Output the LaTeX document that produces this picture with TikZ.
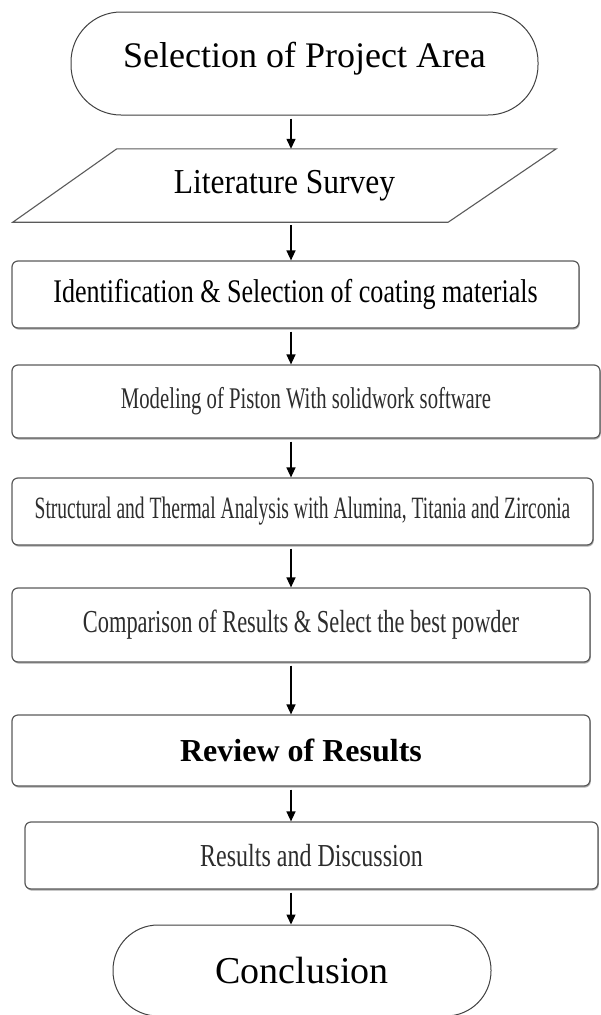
\documentclass[tikz,border=0pt]{standalone}
\usepackage{fontspec}
\setmainfont{Liberation Serif}
\usepackage{tikz}
\usetikzlibrary{arrows.meta,positioning,shapes.geometric,shadows}
\definecolor{edgeGray}{RGB}{90,90,90}
\definecolor{inkGray}{RGB}{45,45,45}
\newcommand{\squeeze}[2]{\scalebox{#1}[1]{#2}}
\tikzset{
  stepbox/.style={draw=edgeGray,line width=1.2pt,rounded corners=6pt,fill=white,inner sep=0pt,
    drop shadow={shadow xshift=.8pt,shadow yshift=-1.6pt,fill=black!55,opacity=.6}},
  termbox/.style={draw=black!75,line width=1pt,fill=white,inner sep=0pt},
  flow/.style={line width=1.4pt,-{Triangle[length=10pt,width=9pt]},shorten <=3pt},
}

\begin{document}
\begin{tikzpicture}[x=1pt,y=-1pt]
\useasboundingbox (0,0) rectangle (601,1015);
\coordinate (spine) at (291,0);
\node[termbox,rounded corners=50pt,minimum width=467pt,minimum height=103pt,text depth=17pt,font=\fontsize{36}{40}\selectfont] (area) at (304.5,63.5) {Selection of Project Area};
\node[inner sep=0pt,minimum width=543pt,minimum height=73pt,font=\fontsize{35}{38}\selectfont] (survey) at (284.5,185.5) {\squeeze{.9}{Literature Survey}};
\draw[edgeGray,line width=1.1pt,line join=miter] ([xshift=104pt]survey.north west) -- (survey.north east)
  -- ([xshift=-108pt]survey.south east) -- (survey.south west) -- cycle;
\node[stepbox,minimum width=567pt,minimum height=67pt,font=\fontsize{33}{36}\selectfont] (ident) at (295.5,294.5) {\squeeze{.79}{Identification \& Selection of coating materials}};
\node[stepbox,minimum width=588pt,minimum height=73pt,text=inkGray,font=\fontsize{30}{33}\selectfont] (model) at (306,401.5) {\squeeze{.69}{Modeling of Piston With solidwork software}};
\node[stepbox,minimum width=581pt,minimum height=67pt,text=inkGray,font=\fontsize{31}{34}\selectfont] (analysis) at (302.5,511.5) {\squeeze{.63}{Structural and Thermal Analysis with Alumina, Titania and Zirconia}};
\node[stepbox,minimum width=578pt,minimum height=74pt,text=inkGray,font=\fontsize{32}{35}\selectfont] (compare) at (301,625) {\squeeze{.7}{Comparison of Results \& Select the best powder}};
\node[stepbox,minimum width=578pt,minimum height=71pt,font=\fontsize{32}{35}\selectfont\bfseries] (review) at (301,750.5) {Review of Results};
\node[stepbox,minimum width=573pt,minimum height=67pt,text=inkGray,font=\fontsize{32}{35}\selectfont] (discuss) at (311.5,855.5) {\squeeze{.75}{Results and Discussion}};
\node[termbox,rounded corners=45pt,minimum width=378pt,minimum height=91pt,font=\fontsize{38}{42}\selectfont] (concl) at (302,970.5) {Conclusion};
% arrows down the spine
\draw[flow] (area.south -| spine) -- (survey.north -| spine);
\draw[flow] (survey.south -| spine) -- (ident.north -| spine);
\draw[flow] (ident.south -| spine) -- (model.north -| spine);
\draw[flow] (model.south -| spine) -- (analysis.north -| spine);
\draw[flow] (analysis.south -| spine) -- (compare.north -| spine);
\draw[flow] (compare.south -| spine) -- (review.north -| spine);
\draw[flow] (review.south -| spine) -- (discuss.north -| spine);
\draw[flow] (discuss.south -| spine) -- (concl.north -| spine);
\end{tikzpicture}
\end{document}
